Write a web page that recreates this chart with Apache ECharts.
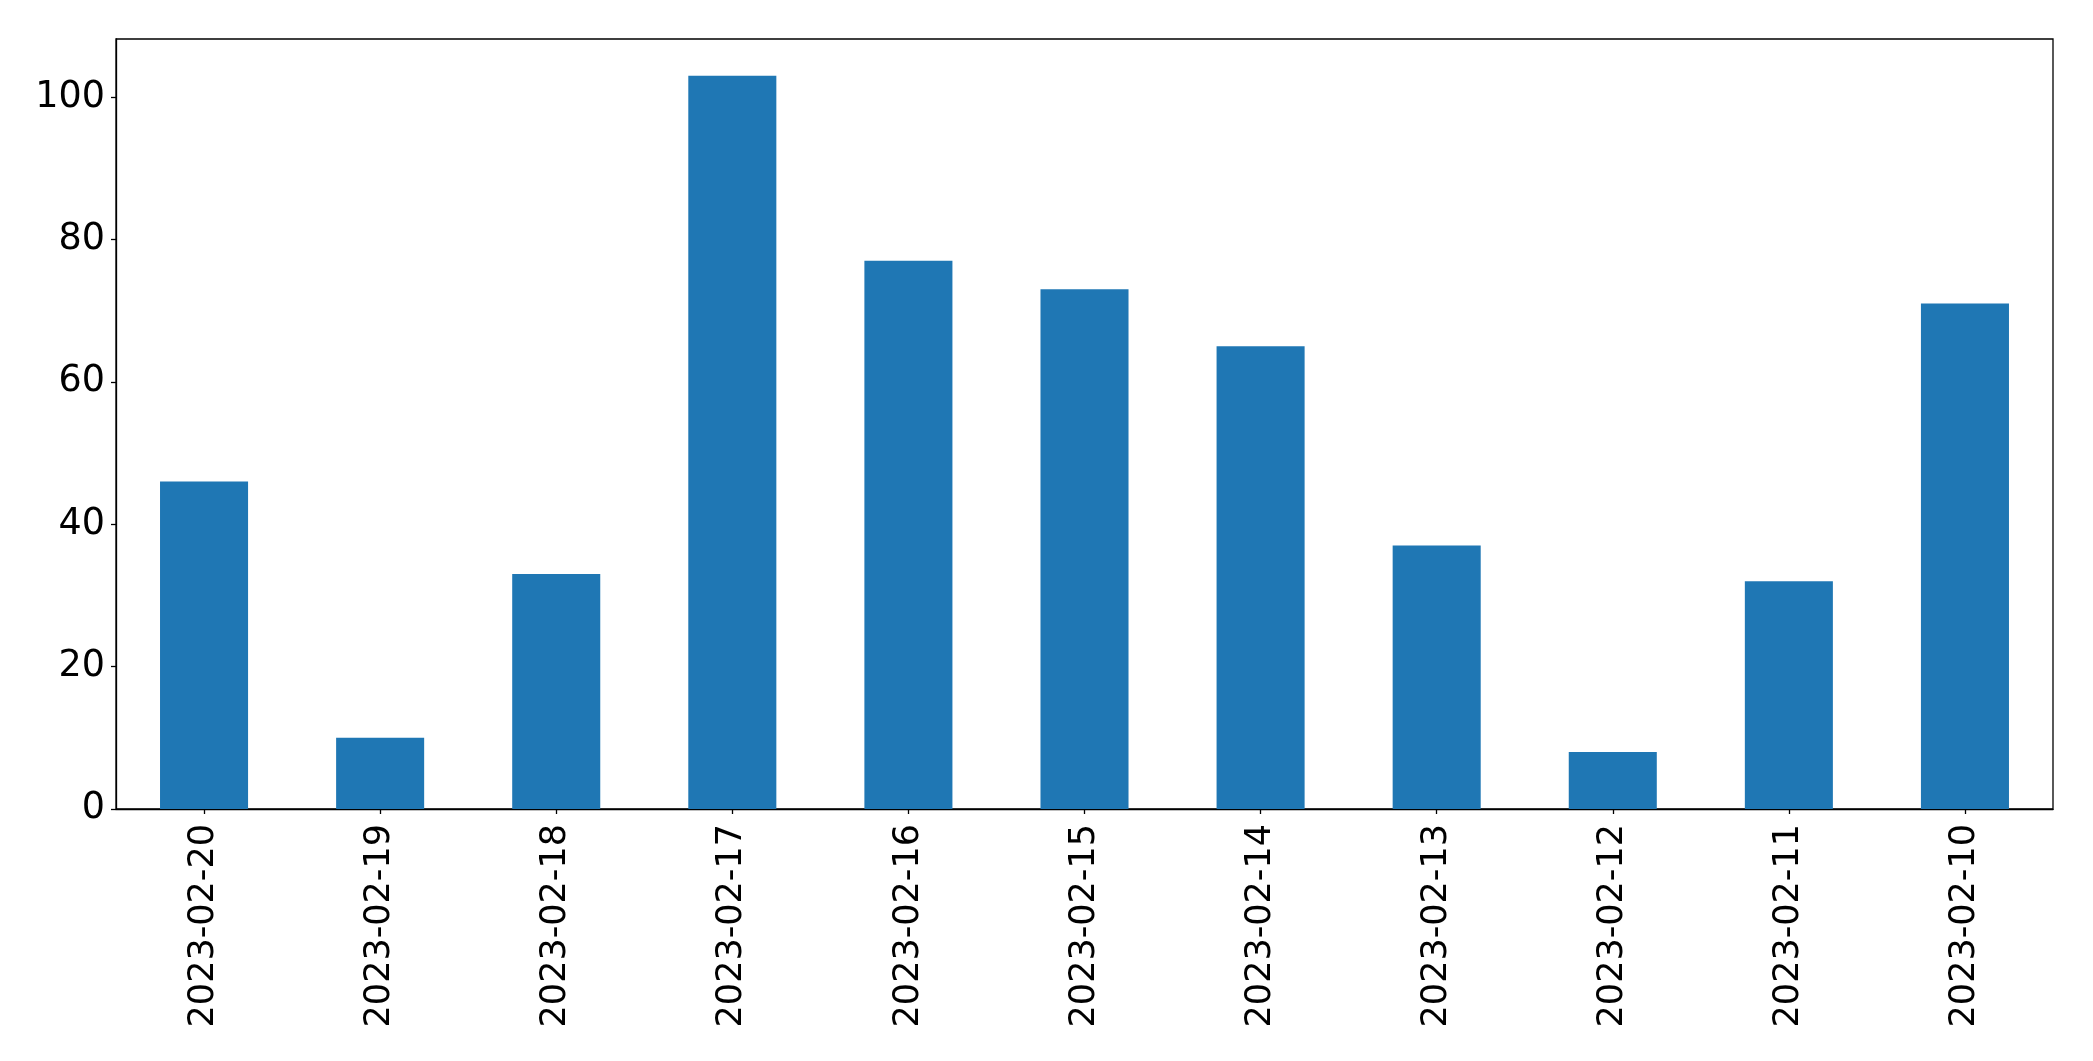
<!DOCTYPE html>
<html>
<head>
<meta charset="utf-8">
<script src="https://cdn.jsdelivr.net/npm/echarts@6/dist/echarts.min.js"></script>
<style>
html,body{margin:0;padding:0;background:#fff;}
#chart{width:2093px;height:1061px;}
</style>
</head>
<body>
<div id="chart"></div>
<script>
const categories = ['2023-02-20','2023-02-19','2023-02-18','2023-02-17','2023-02-16','2023-02-15','2023-02-14','2023-02-13','2023-02-12','2023-02-11','2023-02-10'];
const values = [46, 10, 33, 103, 77, 73, 65, 37, 8, 32, 71];
const yTicks = [0, 20, 40, 60, 80, 100];

const chart = echarts.init(document.getElementById('chart'), null, {renderer: 'canvas'});
const font = 'DejaVu Sans';
chart.setOption({
  backgroundColor: '#ffffff',
  animation: false,
  grid: {
    left: 116, right: 40, top: 39, bottom: 252,
    show: true, borderColor: '#000', borderWidth: 1.3, backgroundColor: 'transparent'
  },
  xAxis: {
    type: 'category',
    data: categories,
    boundaryGap: true,
    axisLine: {show: true, lineStyle: {color: '#000', width: 1.3}},
    axisTick: {show: true, alignWithLabel: true, length: 5, lineStyle: {color: '#000', width: 1.3}},
    axisLabel: {rotate: 90, color: '#000', fontFamily: font, fontSize: 35, margin: 15, interval: 0},
    splitLine: {show: false}
  },
  yAxis: {
    type: 'value',
    min: 0,
    max: 108.15,
    interval: 20,
    axisLine: {show: true, lineStyle: {color: '#000', width: 1.3}},
    axisTick: {show: true, length: 5, lineStyle: {color: '#000', width: 1.3}, customValues: yTicks},
    axisLabel: {color: '#000', fontFamily: font, fontSize: 36.5, margin: 11, customValues: yTicks},
    splitLine: {show: false}
  },
  series: [{
    type: 'bar',
    data: values,
    barWidth: '50%',
    itemStyle: {color: '#1f77b4'}
  }]
});
</script>
</body>
</html>
